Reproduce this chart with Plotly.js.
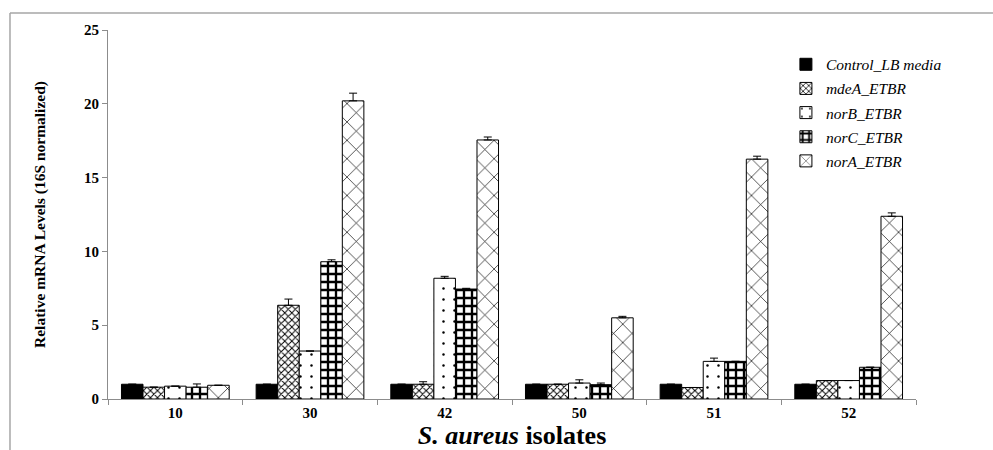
<!DOCTYPE html>
<html>
<head>
<meta charset="utf-8">
<script src="https://cdn.plot.ly/plotly-3.0.1.min.js"></script>
<style>html,body{margin:0;padding:0;background:#fff;}#chart{width:993px;height:450px;}</style>
</head>
<body>
<div id="chart"></div>
<script>
const isolates = ['10', '30', '42', '50', '51', '52'];
const seriesNames = ['Control_LB media', 'mdeA_ETBR', 'norB_ETBR', 'norC_ETBR', 'norA_ETBR'];
const controlLB = [1.0, 1.0, 1.0, 1.0, 1.0, 1.0];
const mdeA = [0.8, 6.35, 1.0, 1.0, 0.78, 1.25];
const norB = [0.87, 3.25, 8.18, 1.08, 2.55, 1.25];
const norC = [0.8, 9.3, 7.45, 0.97, 2.55, 2.15];
const norA = [0.93, 20.2, 17.55, 5.5, 16.25, 12.38];
const errControl = [0, 0, 0, 0, 0, 0];
const errMdeA = [0, 0.42, 0.17, 0, 0, 0];
const errNorB = [0, 0, 0.13, 0.22, 0.22, 0];
const errNorC = [0.22, 0.13, 0.05, 0.11, 0, 0];
const errNorA = [0, 0.52, 0.2, 0.1, 0.2, 0.23];

const values = [controlLB, mdeA, norB, norC, norA];
const errors = [errControl, errMdeA, errNorB, errNorC, errNorA];
const patterns = [
  null,
  {shape: 'x', size: 5, solidity: 0.35},
  {shape: '.', size: 11, solidity: 0.04},
  {shape: '+', size: 8, solidity: 0.5},
  {shape: 'x', size: 13, solidity: 0.1}
];

const traces = values.map((v, i) => {
  const marker = {
    color: i === 0 ? '#000000' : '#ffffff',
    line: {color: '#000000', width: 1}
  };
  if (patterns[i]) {
    marker.pattern = Object.assign({fgcolor: '#000000', bgcolor: '#ffffff', fillmode: 'replace'}, patterns[i]);
  }
  return {
    type: 'bar',
    name: seriesNames[i],
    x: isolates,
    y: v,
    marker: marker,
    legendgroup: 'g' + i,
    error_y: {
      type: 'data', symmetric: false, array: errors[i],
      arrayminus: errors[i].map(() => 0),
      color: '#000000', thickness: 1, width: 4, visible: true
    }
  };
});

const serif = 'Liberation Serif';
const layout = {
  width: 993, height: 450,
  margin: {l: 108, r: 77, t: 30, b: 51},
  paper_bgcolor: '#ffffff', plot_bgcolor: '#ffffff',
  barmode: 'group', bargap: 0.2, bargroupgap: 0,
  font: {family: serif, color: '#000000'},
  showlegend: true,
  legend: {
    x: 0.839, y: 0.952, xanchor: 'left', yanchor: 'top',
    bgcolor: 'rgba(0,0,0,0)',
    font: {family: serif, size: 15.5, style: 'italic', color: '#000'},
    traceorder: 'grouped', tracegroupgap: 1
  },
  xaxis: {
    type: 'category',
    showline: true, linecolor: '#8c8c8c', linewidth: 1,
    ticks: 'outside', tickson: 'boundaries', ticklen: 5, tickcolor: '#8c8c8c',
    tickfont: {family: serif, size: 15, weight: 'bold', color: '#000'},
    showgrid: false, zeroline: false,
    title: {text: '<i>S. aureus</i> isolates', font: {family: serif, size: 26, weight: 'bold', color: '#000'}, standoff: 0}
  },
  yaxis: {
    range: [0, 25], dtick: 5,
    showline: true, linecolor: '#8c8c8c', linewidth: 1,
    ticks: 'outside', ticklen: 5, tickcolor: '#8c8c8c',
    tickfont: {family: serif, size: 15, weight: 'bold', color: '#000'},
    showgrid: false, zeroline: false,
    title: {text: 'Relative mRNA Levels (16S normalized)', font: {family: serif, size: 15.5, weight: 'bold', color: '#000'}, standoff: 34}
  },
  shapes: [
    {type: 'line', xref: 'paper', yref: 'paper', x0: -0.1213, x1: -0.1213, y0: -0.2, y1: 1.046, line: {color: '#a6a6a6', width: 1.5}},
    {type: 'line', xref: 'paper', yref: 'paper', x0: -0.1213, x1: 1.2, y0: 1.046, y1: 1.046, line: {color: '#a6a6a6', width: 1.5}}
  ]
};

Plotly.newPlot('chart', traces, layout, {displayModeBar: false, staticPlot: true});
</script>
</body>
</html>
